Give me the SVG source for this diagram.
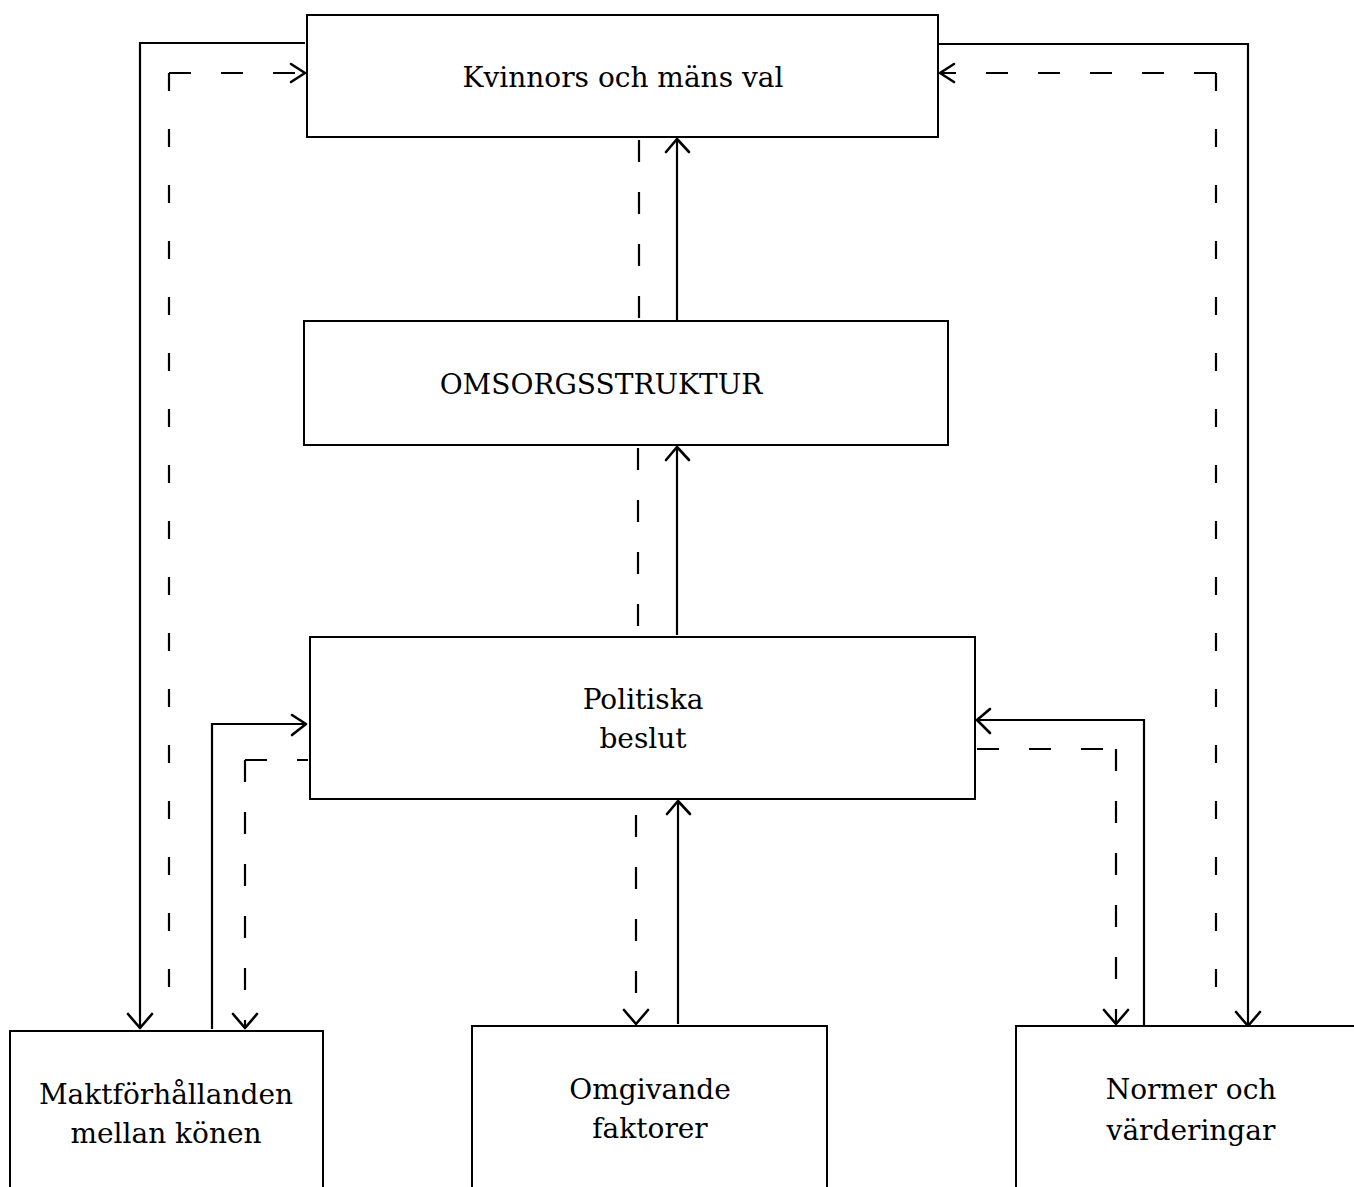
<svg xmlns="http://www.w3.org/2000/svg" width="1354" height="1187" viewBox="0 0 1354 1187">
<style>
.box{fill:#fff;stroke:#000;stroke-width:2}
.t{font-family:"DejaVu Serif","Liberation Serif",serif;font-size:28px;fill:#000;text-anchor:middle}
.s{fill:none;stroke:#000;stroke-width:2.2}
.d{fill:none;stroke:#000;stroke-width:2.2;stroke-dasharray:22 30}
.dv{fill:none;stroke:#000;stroke-width:2.2;stroke-dasharray:18 38}
.h{fill:none;stroke:#000;stroke-width:2.6;stroke-linecap:round;stroke-linejoin:round}
</style>
<rect width="1354" height="1187" fill="#fff"/>
<g id="connectors">
<polyline class="s" points="305,43 140,43 140,1028"/>
<polyline class="h" points="128,1014 140,1028 152,1014"/>
<line class="dv" x1="169" y1="73" x2="169" y2="1012"/>
<line class="d" x1="169" y1="73" x2="305" y2="73"/>
<polyline class="h" points="291,64 305,73 291,82"/>
<polyline class="s" points="938,44 1248,44 1248,1026"/>
<polyline class="h" points="1236,1012 1248,1026 1260,1012"/>
<line class="dv" x1="1216" y1="73" x2="1216" y2="1022"/>
<line class="d" x1="1216" y1="73" x2="940" y2="73"/>
<polyline class="h" points="954,64 940,73 954,82"/>
<line class="d" x1="639" y1="140" x2="639" y2="321"/>
<line class="s" x1="677" y1="321" x2="677" y2="139"/>
<polyline class="h" points="666,152 677,139 689,152"/>
<line class="d" x1="638" y1="448" x2="638" y2="637"/>
<line class="s" x1="677" y1="635" x2="677" y2="447"/>
<polyline class="h" points="666,460 677,447 689,460"/>
<line class="d" x1="636" y1="815" x2="636" y2="1024"/>
<polyline class="h" points="624,1010 636,1024 648,1010"/>
<line class="s" x1="678" y1="1024" x2="678" y2="801"/>
<polyline class="h" points="667,814 678,801 690,814"/>
<polyline class="s" points="212,1029 212,724 306,724"/>
<polyline class="h" points="292,715 306,724 292,735"/>
<line class="d" x1="245" y1="760" x2="308" y2="760"/>
<line class="d" x1="245" y1="760" x2="245" y2="1028"/>
<polyline class="h" points="233,1014 245,1028 257,1014"/>
<polyline class="s" points="1144,1026 1144,720 977,720"/>
<polyline class="h" points="990,709 977,720 990,733"/>
<line class="d" x1="977" y1="749" x2="1116" y2="749"/>
<line class="d" x1="1116" y1="749" x2="1116" y2="1024"/>
<polyline class="h" points="1104,1010 1116,1024 1128,1010"/>
</g>
<g id="kvinnors">
<rect class="box" x="307" y="15" width="631" height="122"/>
<text class="t" x="623" y="87">Kvinnors och mäns val</text>
</g>
<g id="omsorg">
<rect class="box" x="304" y="321" width="644" height="124"/>
<text class="t" x="601" y="394">OMSORGSSTRUKTUR</text>
</g>
<g id="politiska">
<rect class="box" x="310" y="637" width="665" height="162"/>
<text class="t" x="643" y="709">Politiska</text>
<text class="t" x="643" y="748">beslut</text>
</g>
<g id="makt">
<rect class="box" x="10" y="1031" width="313" height="170"/>
<text class="t" x="166" y="1104">Maktförhållanden</text>
<text class="t" x="166" y="1143">mellan könen</text>
</g>
<g id="omgivande">
<rect class="box" x="472" y="1026" width="355" height="175"/>
<text class="t" x="650" y="1099">Omgivande</text>
<text class="t" x="650" y="1138">faktorer</text>
</g>
<g id="normer">
<rect class="box" x="1016" y="1026" width="350" height="175"/>
<text class="t" x="1191" y="1099">Normer och</text>
<text class="t" x="1191" y="1140">värderingar</text>
</g>
</svg>
